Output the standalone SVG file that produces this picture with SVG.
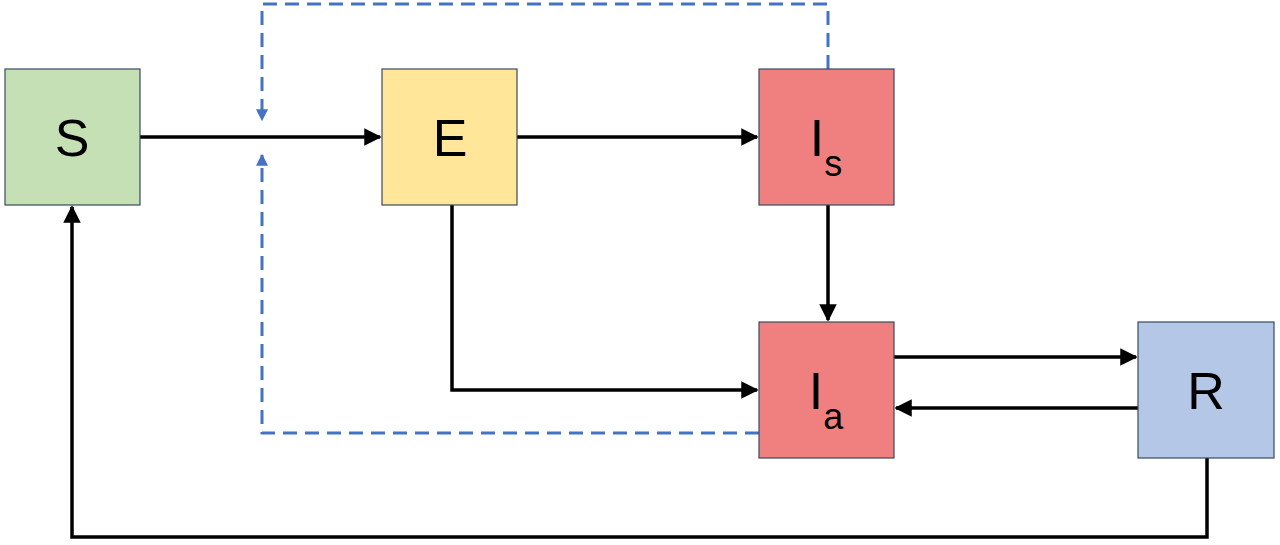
<svg xmlns="http://www.w3.org/2000/svg" width="1280" height="545" viewBox="0 0 1280 545">
<defs>
<marker id="ah" viewBox="0 0 10 10" refX="9" refY="5" markerWidth="5" markerHeight="5" orient="auto-start-reverse"><path d="M0,0 L10,5 L0,10 z" fill="#000"/></marker>
<marker id="bh" viewBox="0 0 10 10" refX="9" refY="5" markerWidth="4" markerHeight="4" orient="auto"><path d="M0,0 L10,5 L0,10 z" fill="#4472c4"/></marker>
</defs>
<style>
.box{stroke:#3a4a60;stroke-width:1.2}
.lbl{font-family:"Liberation Sans",Arial,sans-serif;font-size:52px;fill:#000;text-anchor:middle}
.sub{font-size:36px}
.c{fill:none;stroke:#000;stroke-width:3.5}
.d{fill:none;stroke:#4472c4;stroke-width:3;stroke-dasharray:14,8}
</style>
<rect width="1280" height="545" fill="#fff"/>
<g id="connectors">
<path class="c" d="M140,137 H380" marker-end="url(#ah)"/>
<path class="c" d="M517,137 H757" marker-end="url(#ah)"/>
<path class="c" d="M828,205 V320" marker-end="url(#ah)"/>
<path class="c" d="M452,205 V390 H757" marker-end="url(#ah)"/>
<path class="c" d="M894,357 H1136" marker-end="url(#ah)"/>
<path class="c" d="M1138,408 H896" marker-end="url(#ah)"/>
<path class="c" d="M1207,458 V537 H72 V207" marker-end="url(#ah)"/>
<path class="d" d="M828,69 V4 H262 V120" marker-end="url(#bh)"/>
<path class="d" d="M759,433 H262 V155" marker-end="url(#bh)"/>
</g>
<g id="S"><rect class="box" x="5" y="69" width="135" height="136" fill="#c5e0b4"/><text class="lbl" x="72" y="156">S</text></g>
<g id="E"><rect class="box" x="382" y="69" width="135" height="136" fill="#ffe699"/><text class="lbl" x="450" y="156">E</text></g>
<g id="Is"><rect class="box" x="759" y="69" width="135" height="136" fill="#f08080"/><text class="lbl" x="826" y="156">I<tspan class="sub" dy="20">s</tspan></text></g>
<g id="Ia"><rect class="box" x="759" y="322" width="135" height="136" fill="#f08080"/><text class="lbl" x="826" y="409">I<tspan class="sub" dy="20">a</tspan></text></g>
<g id="R"><rect class="box" x="1138" y="322" width="136" height="136" fill="#b4c7e7"/><text class="lbl" x="1206" y="409">R</text></g>
</svg>
